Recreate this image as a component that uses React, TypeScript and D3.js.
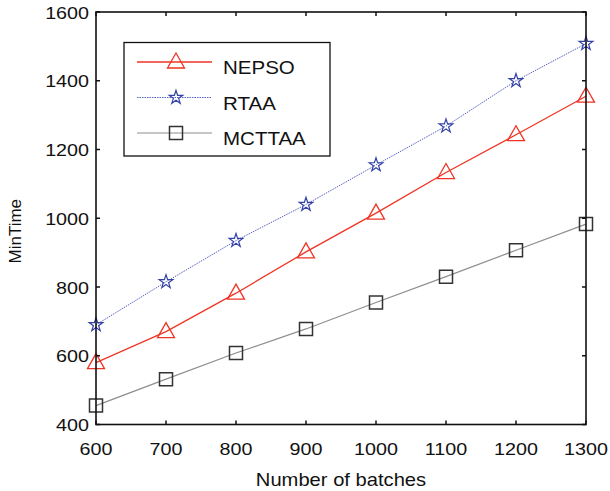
import * as d3 from 'd3';

const width = 610;
const height = 491;
const [mt, mr, mb, ml] = [12, 24, 66, 96];

const batches = [600, 700, 800, 900, 1000, 1100, 1200, 1300];
const nepso = [580, 670, 782, 902, 1015, 1133, 1243, 1355];
const rtaa = [690, 815, 935, 1040, 1155, 1268, 1400, 1508];
const mcttaa = [455, 532, 608, 678, 755, 830, 907, 983];
const yTicks = [400, 600, 800, 1000, 1200, 1400, 1600];
const seriesNames = ['NEPSO', 'RTAA', 'MCTTAA'];

const font = 'Arial, "Liberation Sans", Helvetica, sans-serif';
const stretch = 1.16;

const x = d3
    .scaleLinear()
    .domain([600, 1300])
    .range([ml, width - mr]);

const y = d3
    .scaleLinear()
    .domain([400, 1600])
    .range([height - mb - 0.5, mt]);

const red = '#ee3524';
const blue = '#5563c4';
const starBlue = '#3342a6';
const gray = '#8e8e8e';

const triangle = 'M0,-9L8.5,6L-8.5,6Z';
const star = d3.symbol(d3.symbolStar, 58)()!;
const square = 'M-6.5,-6.5H6.5V6.5H-6.5Z';

type Marker = 'tri' | 'star' | 'sq';

function MarkerShape({ kind, cx, cy }: { kind: Marker; cx: number; cy: number }) {
    if (kind === 'tri') {
        return <path d={triangle} transform={`translate(${cx},${cy})`} fill="none" stroke={red} strokeWidth={1.3} />;
    }
    if (kind === 'star') {
        return <path d={star} transform={`translate(${cx},${cy})`} fill="none" stroke={starBlue} strokeWidth={1.2} />;
    }
    return <path d={square} transform={`translate(${cx},${cy})`} fill="none" stroke="#333" strokeWidth={1.5} />;
}

const series = [
    { name: seriesNames[0], values: nepso, color: red, dash: undefined, width: 1.3, marker: 'tri' as Marker },
    { name: seriesNames[1], values: rtaa, color: blue, dash: '1.5,1', width: 1, marker: 'star' as Marker },
    { name: seriesNames[2], values: mcttaa, color: gray, dash: undefined, width: 1.2, marker: 'sq' as Marker }
];

function App() {
    const line = d3
        .line<number>()
        .x((_, i) => x(batches[i]))
        .y((d) => y(d));

    const x0 = x(600);
    const x1 = x(1300);
    const y0 = y(400);
    const y1 = y(1600);

    return (
        <svg
            width={width}
            height={height}
            viewBox={`0 0 ${width} ${height}`}
            style={{ position: 'absolute', left: 0, top: 0, background: '#fff' }}
        >
            <rect x={0} y={0} width={width} height={height} fill="#fff" />

            {/* series */}
            {series.map((s) => (
                <g key={s.name}>
                    <path
                        d={line(s.values)!}
                        fill="none"
                        stroke={s.color}
                        strokeWidth={s.width}
                        strokeDasharray={s.dash}
                    />
                    {s.values.map((v, i) => (
                        <MarkerShape key={i} kind={s.marker} cx={x(batches[i])} cy={y(v)} />
                    ))}
                </g>
            ))}

            {/* axes box */}
            <rect x={x0} y={y1} width={x1 - x0} height={y0 - y1} fill="none" stroke="#111" strokeWidth={1.6} />

            {/* ticks, inward on all sides */}
            {batches.map((b) => (
                <g key={b}>
                    <line x1={x(b)} x2={x(b)} y1={y0} y2={y0 - 4} stroke="#111" strokeWidth={1.5} />
                    <line x1={x(b)} x2={x(b)} y1={y1} y2={y1 + 4} stroke="#111" strokeWidth={1.5} />
                    <text
                        transform={`translate(${x(b)},${y0 + 30}) scale(${stretch},1)`}
                        textAnchor="middle"
                        fontFamily={font}
                        fontSize={17}
                        fill="#111"
                    >
                        {b}
                    </text>
                </g>
            ))}
            {yTicks.map((t) => (
                <g key={t}>
                    <line x1={x0} x2={x0 + 4} y1={y(t)} y2={y(t)} stroke="#111" strokeWidth={1.5} />
                    <line x1={x1} x2={x1 - 4} y1={y(t)} y2={y(t)} stroke="#111" strokeWidth={1.5} />
                    <text
                        transform={`translate(${x0 - 7},${y(t) + 6.5}) scale(${stretch},1)`}
                        textAnchor="end"
                        fontFamily={font}
                        fontSize={17}
                        fill="#111"
                    >
                        {t}
                    </text>
                </g>
            ))}

            {/* axis labels */}
            <text
                transform={`translate(${(x0 + x1) / 2},${486}) scale(1.12,1)`}
                textAnchor="middle"
                fontFamily={font}
                fontSize={18}
                fill="#111"
            >
                Number of batches
            </text>
            <text
                transform={`translate(21,${(y0 + y1) / 2 + 13}) rotate(-90)`}
                textAnchor="middle"
                fontFamily={font}
                fontSize={17}
                fill="#111"
            >
                MinTime
            </text>

            {/* legend */}
            <rect x={124} y={42.5} width={206} height={113.5} fill="#fff" stroke="#111" strokeWidth={1.3} />
            {series.map((s, i) => {
                const ly = 62 + i * 35.5;
                return (
                    <g key={s.name}>
                        <line
                            x1={137}
                            x2={212}
                            y1={ly}
                            y2={ly}
                            stroke={s.color}
                            strokeWidth={s.width}
                            strokeDasharray={s.dash}
                        />
                        <MarkerShape kind={s.marker} cx={176} cy={ly} />
                        <text
                            transform={`translate(223,${ly + 12}) scale(1.08,1)`}
                            fontFamily={font}
                            fontSize={19}
                            fill="#111"
                        >
                            {s.name}
                        </text>
                    </g>
                );
            })}
        </svg>
    );
}

export default App;
